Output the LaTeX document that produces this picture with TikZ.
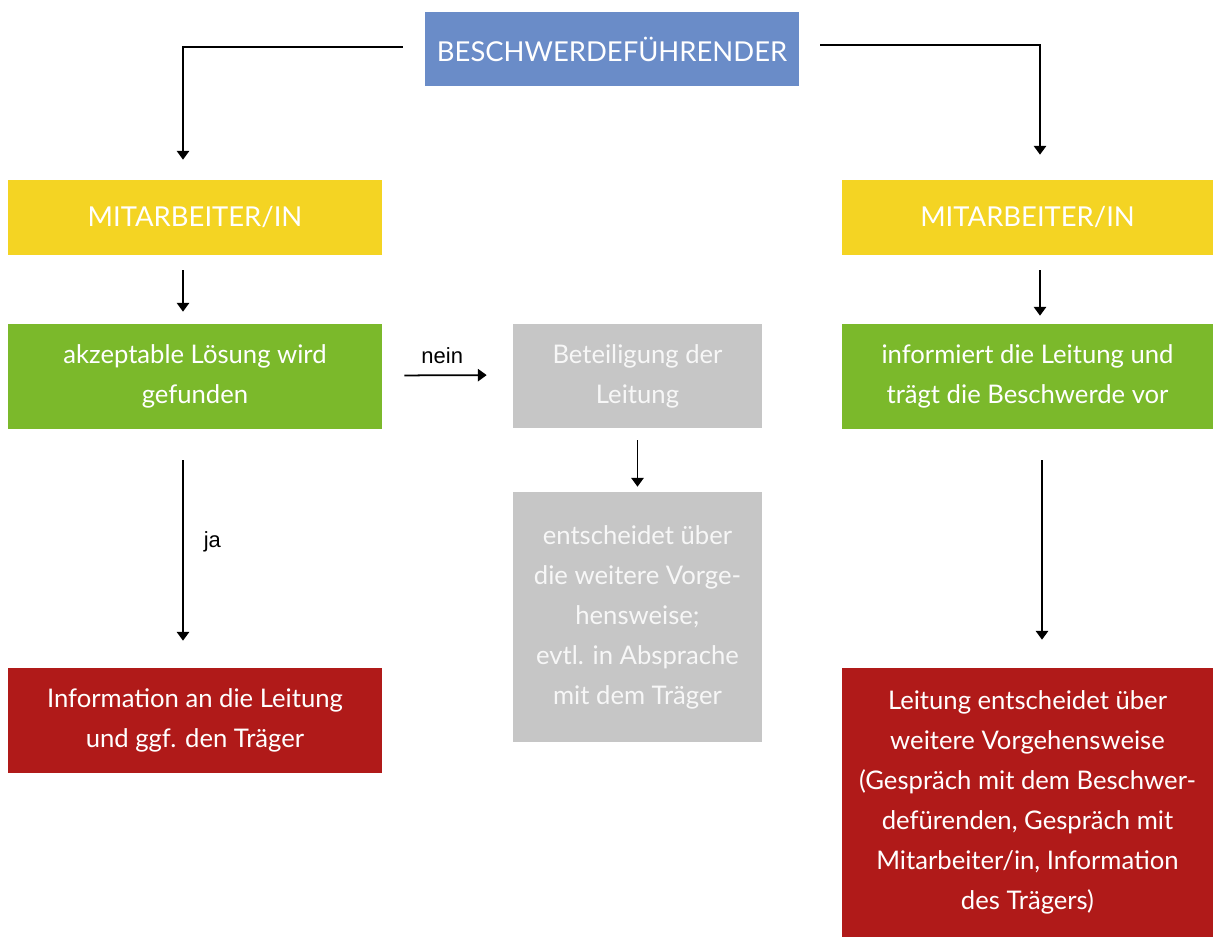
\documentclass[tikz,border=0pt]{standalone}
\usepackage{fontspec}
\setmainfont{Lato}
\newfontfamily\labelfont{Liberation Sans}
\usetikzlibrary{arrows.meta}
\definecolor{cblue}{HTML}{6A8CC8}
\definecolor{cyellow}{HTML}{F4D423}
\definecolor{cgreen}{HTML}{7BB92B}
\definecolor{cgray}{HTML}{C6C6C6}
\definecolor{cred}{HTML}{B01A19}
\tikzset{
  box/.style={inner sep=0pt, align=center, text=white, font=\fontsize{14.6}{22.8}\selectfont},
  capbox/.style={box, font=\fontsize{15.6}{18}\selectfont},
  arr/.style={line width=1pt, -{Triangle[length=5pt,width=7pt]}},
  lbl/.style={font=\labelfont\fontsize{12.5}{14}\selectfont}
}
\begin{document}
\begin{tikzpicture}[x=0.02cm,y=-0.02cm]
\useasboundingbox (0,0) rectangle (1213,938);
\node[capbox, fill=cblue, minimum width=7.48cm, minimum height=1.48cm] (top) at (612,49) {BESCHWERDEFÜHRENDER};
\node[capbox, fill=cyellow, minimum width=7.48cm, minimum height=1.5cm] (mitaL) at (195,217.5) {MITARBEITER/IN};
\node[capbox, fill=cyellow, minimum width=7.42cm, minimum height=1.5cm] (mitaR) at (1027.5,217.5) {MITARBEITER/IN};
\node[box, fill=cgreen, minimum width=7.48cm, minimum height=2.1cm] (loesung) at (195,376.5) {akzeptable Lösung wird\\gefunden};
\node[box, fill=cgray, text=white!94!gray, minimum width=4.98cm, minimum height=2.08cm] (beteil) at (637.5,376) {Beteiligung der\\Leitung};
\node[box, fill=cgreen, minimum width=7.42cm, minimum height=2.1cm] (inform) at (1027.5,376.5) {informiert die Leitung und\\trägt die Beschwerde vor};
\node[box, fill=cgray, text=white!94!gray, minimum width=4.98cm, minimum height=5.0cm] (entsch) at (637.5,617) {entscheidet über\\die weitere Vorge-\\hensweise;\\evtl. in Absprache\\mit dem Träger};
\node[box, fill=cred, minimum width=7.48cm, minimum height=2.1cm] (infoL) at (195,720.5) {Information an die Leitung\\und ggf. den Träger};
\node[box, fill=cred, minimum width=7.42cm, minimum height=5.38cm] (leitR) at (1027.5,802.5) {Leitung entscheidet über\\weitere Vorgehensweise\\(Gespräch mit dem Beschwer-\\defürenden, Gespräch mit\\Mitarbeiter/in, Information\\des Trägers)};
% connectors
\draw[arr, shorten <=22*0.02cm, shorten >=20*0.02cm] ([yshift=0.04cm]top.west) -| ([xshift=-12*0.02cm]mitaL.north);
\draw[arr, shorten <=21*0.02cm, shorten >=25*0.02cm] ([yshift=0.08cm]top.east) -| ([xshift=12.5*0.02cm]mitaR.north);
\draw[arr, shorten <=15*0.02cm, shorten >=12*0.02cm] ([xshift=-12*0.02cm]mitaL.south) -- ([xshift=-12*0.02cm]loesung.north);
\draw[arr, shorten <=15*0.02cm, shorten >=8*0.02cm] ([xshift=12.5*0.02cm]mitaR.south) -- ([xshift=12.5*0.02cm]inform.north);
\draw[arr, shorten <=22*0.02cm, shorten >=26*0.02cm] ([yshift=0.02cm]loesung.east) -- node[lbl, above=3pt, xshift=-3pt] {nein} ([yshift=0.02cm]beteil.west);
\draw[arr, shorten <=12*0.02cm, shorten >=5*0.02cm] (beteil.south) -- (entsch.north);
\draw[arr, shorten <=31*0.02cm, shorten >=27*0.02cm] ([xshift=-12*0.02cm]loesung.south) -- node[lbl, right=8pt, pos=0.47] {ja} ([xshift=-12*0.02cm]infoL.north);
\draw[arr, shorten <=31*0.02cm, shorten >=28*0.02cm] ([xshift=14.5*0.02cm]inform.south) -- ([xshift=14.5*0.02cm]leitR.north);
\end{tikzpicture}
\end{document}
